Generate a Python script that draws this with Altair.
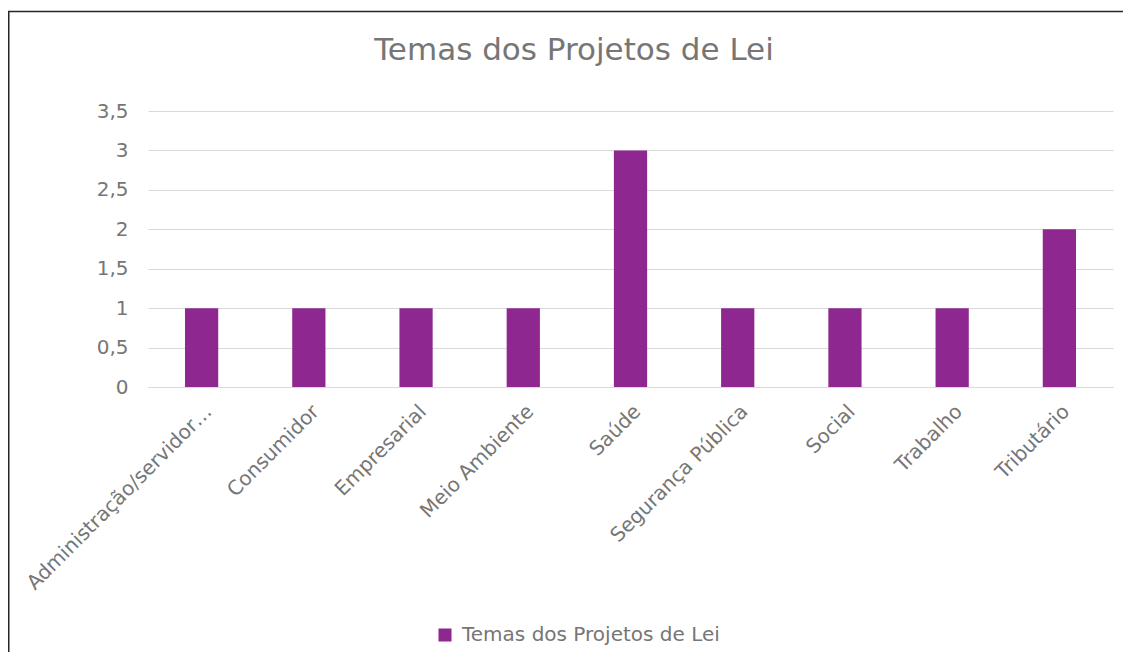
import altair as alt
import pandas as pd

categorias = [
    "Administração/servidor…",
    "Consumidor",
    "Empresarial",
    "Meio Ambiente",
    "Saúde",
    "Segurança Pública",
    "Social",
    "Trabalho",
    "Tributário",
]
valores = [1, 1, 1, 1, 3, 1, 1, 1, 2]
serie = "Temas dos Projetos de Lei"
y_ticks = [0, 0.5, 1, 1.5, 2, 2.5, 3, 3.5]

COR = "#8E278F"
CINZA = "#767676"
GRADE = "#D9D9D9"
FONTE = "DejaVu Sans"

df = pd.DataFrame({"tema": categorias, "qtd": valores, "serie": [serie] * len(categorias)})

bars = alt.Chart(df).mark_bar(color=COR).encode(
    x=alt.X(
        "tema:N",
        sort=categorias,
        scale=alt.Scale(paddingInner=0.69, paddingOuter=0.345),
        axis=alt.Axis(
            title=None,
            labelAngle=-45,
            labelAlign="right",
            labelBaseline="top",
            labelPadding=14,
            labelFontSize=20,
            labelColor=CINZA,
            labelFont=FONTE,
            labelLimit=400,
            ticks=False,
            domain=True,
            domainColor=GRADE,
            domainWidth=1,
            grid=False,
        ),
    ),
    y=alt.Y(
        "qtd:Q",
        scale=alt.Scale(domain=[0, 3.5], nice=False),
        axis=alt.Axis(
            title=None,
            values=y_ticks,
            labelExpr="replace(toString(datum.value), '.', ',')",
            labelFontSize=20,
            labelColor=CINZA,
            labelFont=FONTE,
            labelPadding=20,
            ticks=False,
            domain=False,
            grid=True,
            gridColor=GRADE,
            gridWidth=1,
        ),
    ),
    color=alt.Color(
        "serie:N",
        scale=alt.Scale(range=[COR]),
        legend=alt.Legend(
            title=None,
            orient="none",
            legendX=287,
            legendY=514,
            symbolType="square",
            symbolSize=169,
            symbolStrokeWidth=0,
            labelFontSize=20,
            labelColor=CINZA,
            labelFont=FONTE,
            labelOffset=7,
            labelLimit=500,
            padding=0,
        ),
    ),
)

borda = alt.Chart(alt.Data(values=[{"a": 1}])).mark_rect(
    fill="transparent", stroke="#262626", strokeWidth=1.5
).encode(
    x=alt.value(-139.25),
    x2=alt.value(1400),
    y=alt.value(-99.5),
    y2=alt.value(900),
)

chart = alt.layer(borda, bars).properties(
    width=965,
    height=276,
    background="white",
    padding={"left": 140, "top": 103, "right": 10, "bottom": 265},
    autosize=alt.AutoSizeParams(type="none"),
    title=alt.TitleParams(
        text="Temas dos Projetos de Lei",
        fontSize=31,
        color=CINZA,
        font=FONTE,
        fontWeight="normal",
        anchor="middle",
        frame="group",
        dx=-56.5,
        dy=34,
        offset=-46.5,
        baseline="alphabetic",
    ),
).configure_view(stroke="transparent", strokeWidth=0)

chart.save("out.html", embed_options={"renderer": "svg", "actions": False})
